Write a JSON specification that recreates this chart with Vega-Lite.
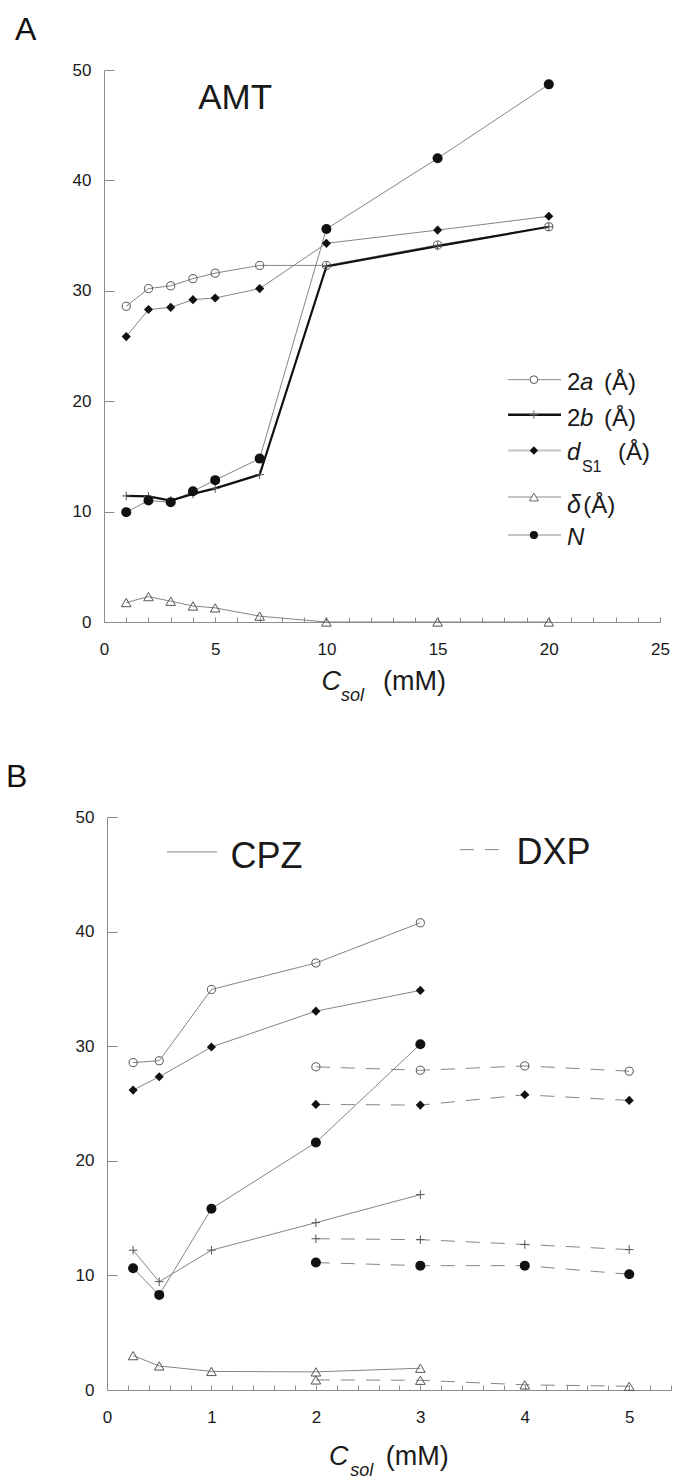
{
  "$schema": "https://vega.github.io/schema/vega-lite/v6.json",
  "background": "white",
  "padding": {"left": 6, "top": 14, "right": 0, "bottom": 0},
  "config": {"view": {"stroke": null}, "font": "Liberation Sans", "text": {"font": "Liberation Sans", "color": "#1a1a1a", "align": "left", "baseline": "alphabetic"},
    "axis": {"labelOverlap": false, "labelFlush": false, "labelBound": false, "grid": false, "title": null, "labelFontSize": 17, "labelFont": "Liberation Sans", "labelColor": "#1a1a1a", "domainColor": "#8c8c8c", "tickColor": "#8c8c8c"}},
  "spacing": 55,
  "datasets": {
    "pts": [
      {"panel": "A", "drug": "AMT", "series": "2a", "c": 1, "v": 28.6},
      {"panel": "A", "drug": "AMT", "series": "2a", "c": 2, "v": 30.2},
      {"panel": "A", "drug": "AMT", "series": "2a", "c": 3, "v": 30.45},
      {"panel": "A", "drug": "AMT", "series": "2a", "c": 4, "v": 31.1},
      {"panel": "A", "drug": "AMT", "series": "2a", "c": 5, "v": 31.6},
      {"panel": "A", "drug": "AMT", "series": "2a", "c": 7, "v": 32.3},
      {"panel": "A", "drug": "AMT", "series": "2a", "c": 10, "v": 32.3},
      {"panel": "A", "drug": "AMT", "series": "2a", "c": 15, "v": 34.15},
      {"panel": "A", "drug": "AMT", "series": "2a", "c": 20, "v": 35.8},
      {"panel": "A", "drug": "AMT", "series": "2b", "c": 1, "v": 11.42},
      {"panel": "A", "drug": "AMT", "series": "2b", "c": 2, "v": 11.38},
      {"panel": "A", "drug": "AMT", "series": "2b", "c": 3, "v": 11.0},
      {"panel": "A", "drug": "AMT", "series": "2b", "c": 4, "v": 11.6},
      {"panel": "A", "drug": "AMT", "series": "2b", "c": 5, "v": 12.1},
      {"panel": "A", "drug": "AMT", "series": "2b", "c": 7, "v": 13.35},
      {"panel": "A", "drug": "AMT", "series": "2b", "c": 10, "v": 32.2},
      {"panel": "A", "drug": "AMT", "series": "2b", "c": 15, "v": 34.05},
      {"panel": "A", "drug": "AMT", "series": "2b", "c": 20, "v": 35.8},
      {"panel": "A", "drug": "AMT", "series": "dS1", "c": 1, "v": 25.85},
      {"panel": "A", "drug": "AMT", "series": "dS1", "c": 2, "v": 28.3},
      {"panel": "A", "drug": "AMT", "series": "dS1", "c": 3, "v": 28.5},
      {"panel": "A", "drug": "AMT", "series": "dS1", "c": 4, "v": 29.2},
      {"panel": "A", "drug": "AMT", "series": "dS1", "c": 5, "v": 29.35},
      {"panel": "A", "drug": "AMT", "series": "dS1", "c": 7, "v": 30.2},
      {"panel": "A", "drug": "AMT", "series": "dS1", "c": 10, "v": 34.3},
      {"panel": "A", "drug": "AMT", "series": "dS1", "c": 15, "v": 35.5},
      {"panel": "A", "drug": "AMT", "series": "dS1", "c": 20, "v": 36.75},
      {"panel": "A", "drug": "AMT", "series": "delta", "c": 1, "v": 1.76},
      {"panel": "A", "drug": "AMT", "series": "delta", "c": 2, "v": 2.3},
      {"panel": "A", "drug": "AMT", "series": "delta", "c": 3, "v": 1.88},
      {"panel": "A", "drug": "AMT", "series": "delta", "c": 4, "v": 1.45},
      {"panel": "A", "drug": "AMT", "series": "delta", "c": 5, "v": 1.28},
      {"panel": "A", "drug": "AMT", "series": "delta", "c": 7, "v": 0.53},
      {"panel": "A", "drug": "AMT", "series": "delta", "c": 10, "v": 0},
      {"panel": "A", "drug": "AMT", "series": "delta", "c": 15, "v": 0},
      {"panel": "A", "drug": "AMT", "series": "delta", "c": 20, "v": 0},
      {"panel": "A", "drug": "AMT", "series": "N", "c": 1, "v": 9.95},
      {"panel": "A", "drug": "AMT", "series": "N", "c": 2, "v": 11.0},
      {"panel": "A", "drug": "AMT", "series": "N", "c": 3, "v": 10.85},
      {"panel": "A", "drug": "AMT", "series": "N", "c": 4, "v": 11.85},
      {"panel": "A", "drug": "AMT", "series": "N", "c": 5, "v": 12.85},
      {"panel": "A", "drug": "AMT", "series": "N", "c": 7, "v": 14.8},
      {"panel": "A", "drug": "AMT", "series": "N", "c": 10, "v": 35.6},
      {"panel": "A", "drug": "AMT", "series": "N", "c": 15, "v": 42.0},
      {"panel": "A", "drug": "AMT", "series": "N", "c": 20, "v": 48.7},
      {"panel": "B", "drug": "CPZ", "series": "2a", "c": 0.25, "v": 28.57},
      {"panel": "B", "drug": "CPZ", "series": "2a", "c": 0.5, "v": 28.73},
      {"panel": "B", "drug": "CPZ", "series": "2a", "c": 1, "v": 34.95},
      {"panel": "B", "drug": "CPZ", "series": "2a", "c": 2, "v": 37.26},
      {"panel": "B", "drug": "CPZ", "series": "2a", "c": 3, "v": 40.77},
      {"panel": "B", "drug": "CPZ", "series": "2b", "c": 0.25, "v": 12.2},
      {"panel": "B", "drug": "CPZ", "series": "2b", "c": 0.5, "v": 9.45},
      {"panel": "B", "drug": "CPZ", "series": "2b", "c": 1, "v": 12.2},
      {"panel": "B", "drug": "CPZ", "series": "2b", "c": 2, "v": 14.6},
      {"panel": "B", "drug": "CPZ", "series": "2b", "c": 3, "v": 17.05},
      {"panel": "B", "drug": "CPZ", "series": "dS1", "c": 0.25, "v": 26.17},
      {"panel": "B", "drug": "CPZ", "series": "dS1", "c": 0.5, "v": 27.33},
      {"panel": "B", "drug": "CPZ", "series": "dS1", "c": 1, "v": 29.93},
      {"panel": "B", "drug": "CPZ", "series": "dS1", "c": 2, "v": 33.06},
      {"panel": "B", "drug": "CPZ", "series": "dS1", "c": 3, "v": 34.87},
      {"panel": "B", "drug": "CPZ", "series": "delta", "c": 0.25, "v": 3.0},
      {"panel": "B", "drug": "CPZ", "series": "delta", "c": 0.5, "v": 2.1},
      {"panel": "B", "drug": "CPZ", "series": "delta", "c": 1, "v": 1.62},
      {"panel": "B", "drug": "CPZ", "series": "delta", "c": 2, "v": 1.58},
      {"panel": "B", "drug": "CPZ", "series": "delta", "c": 3, "v": 1.9},
      {"panel": "B", "drug": "CPZ", "series": "N", "c": 0.25, "v": 10.62},
      {"panel": "B", "drug": "CPZ", "series": "N", "c": 0.5, "v": 8.3},
      {"panel": "B", "drug": "CPZ", "series": "N", "c": 1, "v": 15.82},
      {"panel": "B", "drug": "CPZ", "series": "N", "c": 2, "v": 21.6},
      {"panel": "B", "drug": "CPZ", "series": "N", "c": 3, "v": 30.17},
      {"panel": "B", "drug": "DXP", "series": "2a", "c": 2, "v": 28.2},
      {"panel": "B", "drug": "DXP", "series": "2a", "c": 3, "v": 27.9},
      {"panel": "B", "drug": "DXP", "series": "2a", "c": 4, "v": 28.28},
      {"panel": "B", "drug": "DXP", "series": "2a", "c": 5, "v": 27.82},
      {"panel": "B", "drug": "DXP", "series": "2b", "c": 2, "v": 13.2},
      {"panel": "B", "drug": "DXP", "series": "2b", "c": 3, "v": 13.12},
      {"panel": "B", "drug": "DXP", "series": "2b", "c": 4, "v": 12.7},
      {"panel": "B", "drug": "DXP", "series": "2b", "c": 5, "v": 12.25},
      {"panel": "B", "drug": "DXP", "series": "dS1", "c": 2, "v": 24.92},
      {"panel": "B", "drug": "DXP", "series": "dS1", "c": 3, "v": 24.86},
      {"panel": "B", "drug": "DXP", "series": "dS1", "c": 4, "v": 25.76},
      {"panel": "B", "drug": "DXP", "series": "dS1", "c": 5, "v": 25.27},
      {"panel": "B", "drug": "DXP", "series": "delta", "c": 2, "v": 0.88},
      {"panel": "B", "drug": "DXP", "series": "delta", "c": 3, "v": 0.85},
      {"panel": "B", "drug": "DXP", "series": "delta", "c": 4, "v": 0.45},
      {"panel": "B", "drug": "DXP", "series": "delta", "c": 5, "v": 0.33},
      {"panel": "B", "drug": "DXP", "series": "N", "c": 2, "v": 11.12},
      {"panel": "B", "drug": "DXP", "series": "N", "c": 3, "v": 10.85},
      {"panel": "B", "drug": "DXP", "series": "N", "c": 4, "v": 10.85},
      {"panel": "B", "drug": "DXP", "series": "N", "c": 5, "v": 10.1}
    ]
  },
  "vconcat": [
    {
      "width": 556,
      "height": 552,
      "title": {"text": "A", "anchor": "start", "frame": "group", "font": "Liberation Sans", "fontSize": 32, "fontWeight": "normal", "color": "#111", "dx": -89, "offset": 14},
      "resolve": {"axis": {"x": "independent"}},
      "layer": [
        {
          "layer": [
            {
              "data": {"name": "pts"},
              "transform": [{"filter": "datum.panel === 'A' && datum.series !== '2b'"}],
              "mark": {"type": "line", "color": "#858585", "strokeWidth": 1},
              "encoding": {
                "x": {"field": "c", "type": "quantitative", "scale": {"domain": [0, 25], "nice": false, "zero": false},
                  "axis": {"title": null, "orient": "bottom", "values": [0, 5, 10, 15, 20, 25], "format": "d", "tickSize": -5, "labelPadding": 24, "labelOverlap": false}},
                "y": {"field": "v", "type": "quantitative", "scale": {"domain": [0, 50], "nice": false, "zero": false},
                  "axis": {"title": null, "values": [0,10,20,30,40,50], "format": "d", "tickSize": -10, "labelPadding": 23, "labelOverlap": false}},
                "detail": {"field": "series"}
              }
            },
            {
              "data": {"name": "pts"},
              "transform": [{"filter": "datum.panel === 'A' && datum.series === '2b'"}],
              "mark": {"type": "line", "color": "#111111", "strokeWidth": 2.2},
              "encoding": {"x": {"field": "c", "type": "quantitative"}, "y": {"field": "v", "type": "quantitative"}}
            },
            {
              "data": {"name": "pts"},
              "transform": [{"filter": "datum.panel === 'A' && (datum.series === '2a' || datum.series === '2b' || datum.series === 'delta')"}],
              "mark": {"type": "point", "filled": false, "color": "#555555", "strokeWidth": 1, "opacity": 1},
              "encoding": {
                "x": {"field": "c", "type": "quantitative"}, "y": {"field": "v", "type": "quantitative"},
                "shape": {"field": "series", "type": "nominal", "scale": {"domain": ["2a", "2b", "dS1", "delta", "N"], "range": ["circle", "M-1,0H1M0,-1V1", "diamond", "triangle-up", "circle"]}, "legend": null},
                "size": {"field": "series", "type": "ordinal", "scale": {"domain": ["2a", "2b", "dS1", "delta", "N"], "range": [66, 100, 75, 88, 76]}, "legend": null}
              }
            },
            {
              "data": {"name": "pts"},
              "transform": [{"filter": "datum.panel === 'A' && (datum.series === 'dS1' || datum.series === 'N')"}],
              "mark": {"type": "point", "filled": true, "color": "#111111", "opacity": 1},
              "encoding": {
                "x": {"field": "c", "type": "quantitative"}, "y": {"field": "v", "type": "quantitative"},
                "shape": {"field": "series", "type": "nominal", "scale": {"domain": ["2a", "2b", "dS1", "delta", "N"], "range": ["circle", "M-1,0H1M0,-1V1", "diamond", "triangle-up", "circle"]}, "legend": null},
                "size": {"field": "series", "type": "ordinal", "scale": {"domain": ["2a", "2b", "dS1", "delta", "N"], "range": [66, 100, 75, 88, 76]}, "legend": null}
              }
            },
            {"data": {"values": [{}]}, "mark": {"type": "text", "text": "AMT", "fontSize": 35, "align": "center"}, "encoding": {"x": {"datum": 5.9}, "y": {"datum": 46.5}}},
            {"data": {"values": [{}]}, "mark": {"type": "rule", "color": "#8a8a8a", "strokeWidth": 1}, "encoding": {"x": {"datum": 18.17}, "x2": {"datum": 20.55}, "y": {"datum": 21.95}}},
            {"data": {"values": [{}]}, "mark": {"type": "rule", "color": "#111111", "strokeWidth": 2.5}, "encoding": {"x": {"datum": 18.17}, "x2": {"datum": 20.55}, "y": {"datum": 18.78}}},
            {"data": {"values": [{}]}, "mark": {"type": "rule", "color": "#c4c4c4", "strokeWidth": 2}, "encoding": {"x": {"datum": 18.17}, "x2": {"datum": 20.55}, "y": {"datum": 15.53}}},
            {"data": {"values": [{}]}, "mark": {"type": "rule", "color": "#c4c4c4", "strokeWidth": 2}, "encoding": {"x": {"datum": 18.17}, "x2": {"datum": 20.55}, "y": {"datum": 11.32}}},
            {"data": {"values": [{}]}, "mark": {"type": "rule", "color": "#8a8a8a", "strokeWidth": 1}, "encoding": {"x": {"datum": 18.17}, "x2": {"datum": 20.55}, "y": {"datum": 7.88}}},
            {"data": {"values": [{}]}, "mark": {"type": "point", "shape": "circle", "filled": true, "fill": "white", "stroke": "#555555", "strokeWidth": 1, "size": 60, "opacity": 1}, "encoding": {"x": {"datum": 19.33}, "y": {"datum": 21.95}}},
            {"data": {"values": [{}]}, "mark": {"type": "point", "shape": "M-1,0H1M0,-1V1", "filled": false, "color": "#666666", "strokeWidth": 1, "size": 70, "opacity": 1}, "encoding": {"x": {"datum": 19.33}, "y": {"datum": 18.78}}},
            {"data": {"values": [{}]}, "mark": {"type": "point", "shape": "diamond", "filled": true, "color": "#111111", "size": 70, "opacity": 1}, "encoding": {"x": {"datum": 19.33}, "y": {"datum": 15.53}}},
            {"data": {"values": [{}]}, "mark": {"type": "point", "shape": "triangle-up", "filled": true, "fill": "white", "stroke": "#666666", "strokeWidth": 1, "size": 80, "opacity": 1}, "encoding": {"x": {"datum": 19.33}, "y": {"datum": 11.32}}},
            {"data": {"values": [{}]}, "mark": {"type": "point", "shape": "circle", "filled": true, "color": "#111111", "size": 66, "opacity": 1}, "encoding": {"x": {"datum": 19.33}, "y": {"datum": 7.88}}},
            {"data": {"values": [{}]}, "mark": {"type": "text", "text": "2", "fontSize": 24}, "encoding": {"x": {"datum": 20.82}, "y": {"datum": 21.04}}},
            {"data": {"values": [{}]}, "mark": {"type": "text", "text": "a", "fontSize": 24, "fontStyle": "italic"}, "encoding": {"x": {"datum": 21.4}, "y": {"datum": 21.04}}},
            {"data": {"values": [{}]}, "mark": {"type": "text", "text": "(Å)", "fontSize": 24}, "encoding": {"x": {"datum": 22.48}, "y": {"datum": 21.04}}},
            {"data": {"values": [{}]}, "mark": {"type": "text", "text": "2", "fontSize": 24}, "encoding": {"x": {"datum": 20.82}, "y": {"datum": 17.75}}},
            {"data": {"values": [{}]}, "mark": {"type": "text", "text": "b", "fontSize": 24, "fontStyle": "italic"}, "encoding": {"x": {"datum": 21.4}, "y": {"datum": 17.75}}},
            {"data": {"values": [{}]}, "mark": {"type": "text", "text": "(Å)", "fontSize": 24}, "encoding": {"x": {"datum": 22.48}, "y": {"datum": 17.75}}},
            {"data": {"values": [{}]}, "mark": {"type": "text", "text": "d", "fontSize": 24, "fontStyle": "italic"}, "encoding": {"x": {"datum": 20.82}, "y": {"datum": 14.7}}},
            {"data": {"values": [{}]}, "mark": {"type": "text", "text": "S1", "fontSize": 16}, "encoding": {"x": {"datum": 21.49}, "y": {"datum": 13.6}}},
            {"data": {"values": [{}]}, "mark": {"type": "text", "text": "(Å)", "fontSize": 24}, "encoding": {"x": {"datum": 23.11}, "y": {"datum": 14.7}}},
            {"data": {"values": [{}]}, "mark": {"type": "text", "text": "δ", "fontSize": 25, "fontStyle": "italic"}, "encoding": {"x": {"datum": 20.82}, "y": {"datum": 9.87}}},
            {"data": {"values": [{}]}, "mark": {"type": "text", "text": "(Å)", "fontSize": 24}, "encoding": {"x": {"datum": 21.55}, "y": {"datum": 9.87}}},
            {"data": {"values": [{}]}, "mark": {"type": "text", "text": "N", "fontSize": 24, "fontStyle": "italic"}, "encoding": {"x": {"datum": 20.82}, "y": {"datum": 6.97}}},
            {"data": {"values": [{}]}, "mark": {"type": "text", "text": "C", "fontSize": 27, "fontStyle": "italic"}, "encoding": {"x": {"datum": 9.78}, "y": {"datum": -6.2}}},
            {"data": {"values": [{}]}, "mark": {"type": "text", "text": "sol", "fontSize": 18, "fontStyle": "italic"}, "encoding": {"x": {"datum": 10.66}, "y": {"datum": -7.2}}},
            {"data": {"values": [{}]}, "mark": {"type": "text", "text": "(mM)", "fontSize": 27}, "encoding": {"x": {"datum": 12.55}, "y": {"datum": -6.2}}}
          ]
        },
        {
          "data": {"values": [{}]},
          "mark": {"type": "rule", "opacity": 0},
          "encoding": {"x": {"datum": 0, "axis": {"title": null, "orient": "bottom", "values": [0,1,2,3,4,5,6,7,8,9,10,11,12,13,14,15,16,17,18,19,20,21,22,23,24,25], "labels": false, "domain": false, "tickSize": -5}}}
        }
      ]
    },
    {
      "width": 567,
      "height": 573,
      "title": {"text": "B", "anchor": "start", "frame": "group", "font": "Liberation Sans", "fontSize": 32, "fontWeight": "normal", "color": "#111", "dx": -98, "offset": 14},
      "resolve": {"axis": {"x": "independent"}},
      "layer": [
        {
          "layer": [
            {
              "data": {"name": "pts"},
              "transform": [{"filter": "datum.panel === 'B' && datum.drug === 'CPZ'"}],
              "mark": {"type": "line", "color": "#858585", "strokeWidth": 1},
              "encoding": {
                "x": {"field": "c", "type": "quantitative", "scale": {"domain": [0, 5.4], "range": [3, 567], "nice": false, "zero": false},
                  "axis": {"title": null, "orient": "bottom", "values": [0, 1, 2, 3, 4, 5], "format": "d", "tickSize": -5, "labelPadding": 24, "labelOverlap": false}},
                "y": {"field": "v", "type": "quantitative", "scale": {"domain": [0, 50], "nice": false, "zero": false},
                  "axis": {"title": null, "offset": -3, "values": [0,10,20,30,40,50], "format": "d", "tickSize": -10, "labelPadding": 23, "labelOverlap": false}},
                "detail": {"field": "series"}
              }
            },
            {
              "data": {"name": "pts"},
              "transform": [{"filter": "datum.panel === 'B' && datum.drug === 'DXP'"}],
              "mark": {"type": "line", "color": "#858585", "strokeWidth": 1, "strokeDash": [14, 11]},
              "encoding": {"x": {"field": "c", "type": "quantitative"}, "y": {"field": "v", "type": "quantitative"}, "detail": {"field": "series"}}
            },
            {
              "data": {"name": "pts"},
              "transform": [{"filter": "datum.panel === 'B' && (datum.series === '2a' || datum.series === '2b' || datum.series === 'delta')"}],
              "mark": {"type": "point", "filled": false, "color": "#555555", "strokeWidth": 1, "opacity": 1},
              "encoding": {
                "x": {"field": "c", "type": "quantitative"}, "y": {"field": "v", "type": "quantitative"},
                "shape": {"field": "series", "type": "nominal", "scale": {"domain": ["2a", "2b", "dS1", "delta", "N"], "range": ["circle", "M-1,0H1M0,-1V1", "diamond", "triangle-up", "circle"]}, "legend": null},
                "size": {"field": "series", "type": "ordinal", "scale": {"domain": ["2a", "2b", "dS1", "delta", "N"], "range": [70, 84, 75, 88, 76]}, "legend": null}
              }
            },
            {
              "data": {"name": "pts"},
              "transform": [{"filter": "datum.panel === 'B' && (datum.series === 'dS1' || datum.series === 'N')"}],
              "mark": {"type": "point", "filled": true, "color": "#111111", "opacity": 1},
              "encoding": {
                "x": {"field": "c", "type": "quantitative"}, "y": {"field": "v", "type": "quantitative"},
                "shape": {"field": "series", "type": "nominal", "scale": {"domain": ["2a", "2b", "dS1", "delta", "N"], "range": ["circle", "M-1,0H1M0,-1V1", "diamond", "triangle-up", "circle"]}, "legend": null},
                "size": {"field": "series", "type": "ordinal", "scale": {"domain": ["2a", "2b", "dS1", "delta", "N"], "range": [70, 84, 75, 88, 76]}, "legend": null}
              }
            },
            {"data": {"values": [{}]}, "mark": {"type": "rule", "color": "#858585", "strokeWidth": 1}, "encoding": {"x": {"datum": 0.575}, "x2": {"datum": 1.054}, "y": {"datum": 46.95}}},
            {"data": {"values": [{}]}, "mark": {"type": "rule", "color": "#858585", "strokeWidth": 1, "strokeDash": [14, 11]}, "encoding": {"x": {"datum": 3.38}, "x2": {"datum": 3.75}, "y": {"datum": 47.15}}},
            {"data": {"values": [{}]}, "mark": {"type": "text", "text": "CPZ", "fontSize": 36}, "encoding": {"x": {"datum": 1.183}, "y": {"datum": 45.55}}},
            {"data": {"values": [{}]}, "mark": {"type": "text", "text": "DXP", "fontSize": 36}, "encoding": {"x": {"datum": 3.92}, "y": {"datum": 45.9}}},
            {"data": {"values": [{}]}, "mark": {"type": "text", "text": "C", "fontSize": 27, "fontStyle": "italic"}, "encoding": {"x": {"datum": 2.126}, "y": {"datum": -6.54}}},
            {"data": {"values": [{}]}, "mark": {"type": "text", "text": "sol", "fontSize": 18, "fontStyle": "italic"}, "encoding": {"x": {"datum": 2.33}, "y": {"datum": -7.5}}},
            {"data": {"values": [{}]}, "mark": {"type": "text", "text": "(mM)", "fontSize": 27}, "encoding": {"x": {"datum": 2.67}, "y": {"datum": -6.54}}}
          ]
        },
        {
          "data": {"values": [{}]},
          "mark": {"type": "rule", "opacity": 0},
          "encoding": {"x": {"datum": 0, "axis": {"title": null, "orient": "bottom", "values": [0,0.2,0.4,0.6,0.8,1,1.2,1.4,1.6,1.8,2,2.2,2.4,2.6,2.8,3,3.2,3.4,3.6,3.8,4,4.2,4.4,4.6,4.8,5,5.2,5.4], "labels": false, "domain": false, "tickSize": -5}}}
        }
      ]
    }
  ]
}
